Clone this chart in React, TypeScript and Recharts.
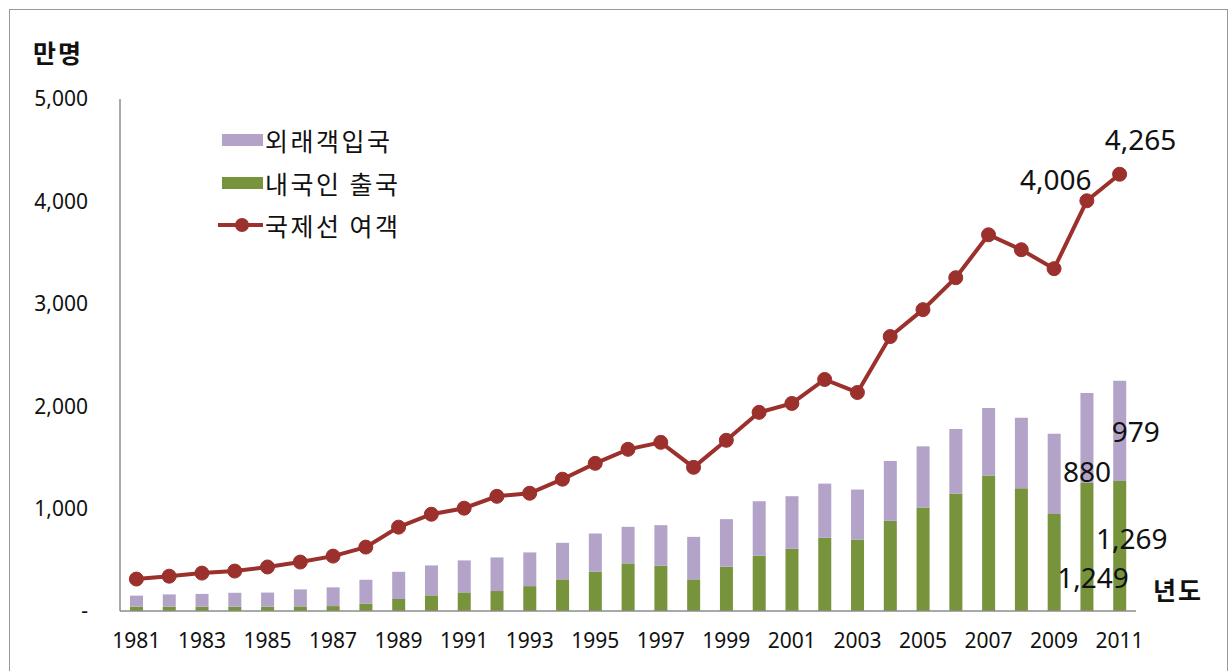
import React from "react";
import { ComposedChart, Bar, Line, XAxis, YAxis, LabelList } from "recharts";

const years = [
  "1981","1982","1983","1984","1985","1986","1987","1988","1989","1990",
  "1991","1992","1993","1994","1995","1996","1997","1998","1999","2000",
  "2001","2002","2003","2004","2005","2006","2007","2008","2009","2010","2011",
];
// 내국인 출국 (만명)
const outbound = [42,42,42,42,42,45,48,72,117,153,182,195,243,309,383,465,442,309,432,539,607,715,699,880,1010,1147,1323,1199,948,1249,1269];
// 외래객입국 (만명)
const inbound = [108,120,125,136,138,166,183,233,266,292,312,328,329,357,374,357,396,415,465,533,514,529,487,585,598,630,659,689,784,880,979];
// 국제선 여객 (만명)
const passengers = [312,340,370,390,430,478,536,624,819,945,1004,1120,1150,1287,1442,1579,1647,1403,1667,1940,2027,2261,2134,2680,2943,3255,3674,3528,3343,4006,4265];
const yTicks = [0, 1000, 2000, 3000, 4000, 5000];

const data = years.map((y, i) => ({
  year: y,
  outbound: outbound[i],
  inbound: inbound[i],
  passengers: passengers[i],
}));

const PURPLE = "#b3a3c9";
const GREEN = "#77933c";
const RED = "#9b302c";
const NUM_FONT = "'Noto Sans', 'DejaVu Sans', sans-serif";
const KR_FONT = "'Noto Sans CJK KR', 'Noto Sans', sans-serif";

const fmt = (v: number) => (v === 0 ? "-" : v.toLocaleString("en-US"));

const labelText = (x: number, y: number, v: number) => (
  <text x={x} y={y} textAnchor="middle" dominantBaseline="central" fontSize={28} fill="#111" fontFamily={NUM_FONT}>
    {fmt(v)}
  </text>
);

const lineLabel = (props: any) => {
  const { x, y, index, value } = props;
  if (index === 29) return labelText(x - 31, y - 22, value);
  if (index === 30) return labelText(x + 21, y - 35, value);
  return null;
};

const inboundLabel = (props: any) => {
  const { x, y, width, height, index, value } = props;
  const cx = x + width / 2;
  const cy = y + height / 2;
  if (index === 29) return labelText(cx, cy + 33, value);
  if (index === 30) return labelText(cx + 16, cy, value);
  return null;
};

const outboundLabel = (props: any) => {
  const { x, y, width, height, index, value } = props;
  const cx = x + width / 2;
  const cy = y + height / 2;
  if (index === 29) return labelText(cx + 6, cy + 30, value);
  if (index === 30) return labelText(cx + 12, cy - 8, value);
  return null;
};

const legendItems = [
  { label: "외래객입국", type: "rect", color: PURPLE, top: 140 },
  { label: "내국인 출국", type: "rect", color: GREEN, top: 183 },
  { label: "국제선 여객", type: "line", color: RED, top: 225 },
];

export default function App() {
  return (
    <div style={{ position: "absolute", left: 0, top: 0, width: 1231, height: 671, overflow: "hidden", background: "#fff" }}>
      <div style={{ position: "absolute", left: 9, top: 9, width: 1219, height: 700, border: "1px solid #999", boxSizing: "border-box" }} />
      <ComposedChart
        width={1231}
        height={671}
        data={data}
        margin={{ top: 99, right: 95, bottom: 30, left: 0 }}
        style={{ position: "absolute", left: 0, top: 0 }}
      >
        <XAxis
          dataKey="year"
          interval={1}
          tickLine={false}
          axisLine={{ stroke: "#8c8c8c", strokeWidth: 1.5 }}
          tick={{ fontSize: 21, fill: "#111", fontFamily: NUM_FONT }}
          tickMargin={16}
          height={30}
        />
        <YAxis
          domain={[0, 5000]}
          ticks={yTicks}
          tickFormatter={fmt}
          tickLine={false}
          axisLine={{ stroke: "#8c8c8c", strokeWidth: 1.5 }}
          tick={{ fontSize: 21, fill: "#111", fontFamily: NUM_FONT }}
          tickMargin={26}
          width={120}
        />
        <Bar dataKey="outbound" stackId="a" fill={GREEN} barSize={13} isAnimationActive={false}>
          <LabelList dataKey="outbound" content={outboundLabel} />
        </Bar>
        <Bar dataKey="inbound" stackId="a" fill={PURPLE} barSize={13} isAnimationActive={false}>
          <LabelList dataKey="inbound" content={inboundLabel} />
        </Bar>
        <Line
          dataKey="passengers"
          stroke={RED}
          strokeWidth={4}
          dot={{ r: 7, fill: RED, stroke: RED, strokeWidth: 1 }}
          activeDot={false}
          isAnimationActive={false}
        >
          <LabelList dataKey="passengers" content={lineLabel} />
        </Line>
      </ComposedChart>
      <div style={{ position: "absolute", left: 33, top: 37, fontFamily: KR_FONT, fontWeight: 700, fontSize: 25, letterSpacing: 2, lineHeight: "30px", color: "#111" }}>만명</div>
      <div style={{ position: "absolute", left: 1153, top: 574, fontFamily: KR_FONT, fontWeight: 700, fontSize: 25, letterSpacing: 2, lineHeight: "30px", color: "#111" }}>년도</div>
      {legendItems.map((it) => (
        <div key={it.label} style={{ position: "absolute", left: 218, top: it.top - 18, height: 36, display: "flex", alignItems: "center" }}>
          <svg width={46} height={20} style={{ display: "block" }}>
            {it.type === "rect" ? (
              <rect x={4} y={4} width={41} height={12} fill={it.color} />
            ) : (
              <g>
                <line x1={0} y1={10} x2={45} y2={10} stroke={it.color} strokeWidth={4} />
                <circle cx={24} cy={10} r={7} fill={it.color} />
              </g>
            )}
          </svg>
          <span style={{ fontFamily: KR_FONT, fontSize: 25, letterSpacing: 2.5, color: "#111", marginLeft: 1 }}>{it.label}</span>
        </div>
      ))}
    </div>
  );
}
